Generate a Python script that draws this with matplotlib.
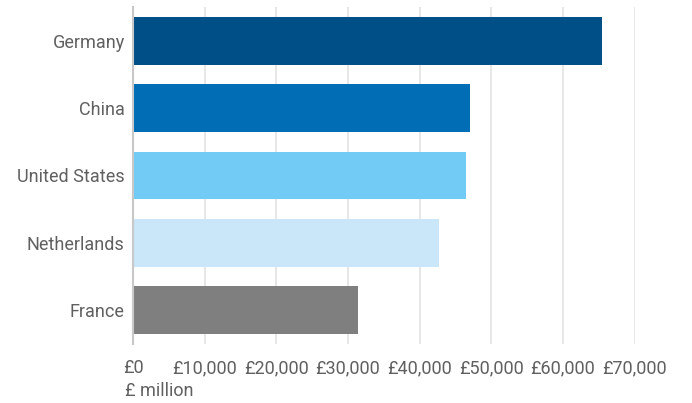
import matplotlib.pyplot as plt
from matplotlib.ticker import FuncFormatter

countries = ["Germany", "China", "United States", "Netherlands", "France"]
values = [65400, 47050, 46450, 42650, 31350]
colors = ["#004F87", "#006DB5", "#71CBF4", "#C9E7F9", "#7F7F7F"]
xticks = [0, 10000, 20000, 30000, 40000, 50000, 60000, 70000]

plt.rcParams['font.family'] = ['Roboto', 'DejaVu Sans']

fig = plt.figure(figsize=(6.92, 4.03), dpi=100)
ax = fig.add_axes([133 / 692, 1 - 344 / 403, 501.7 / 692, 337 / 403])

ypos = range(len(countries))
ax.barh(ypos, values, height=0.71, color=colors, zorder=3)
ax.set_yticks(list(ypos))
ax.set_yticklabels(countries)
ax.set_ylim(4.5, -0.5)
ax.set_xlim(0, 70000)
ax.set_xticks(xticks)
ax.xaxis.set_major_formatter(FuncFormatter(lambda v, p: "£{:,.0f}".format(v)))

ax.grid(axis='x', color='#e3e3e3', linewidth=1.2, zorder=0)
for s in ['top', 'right', 'bottom']:
    ax.spines[s].set_visible(False)
ax.spines['left'].set_color('#c8c8c8')
ax.spines['left'].set_linewidth(1.5)
ax.spines['left'].set_zorder(4)

ax.tick_params(axis='both', length=0, labelsize=13, labelcolor='#606060')
ax.tick_params(axis='y', pad=6)
ax.tick_params(axis='x', pad=11)

fig.text(125 / 692, 1 - 391 / 403, "£ million", fontsize=13, color='#606060',
         ha='left', va='center')

fig.savefig("out.png", dpi=100)
